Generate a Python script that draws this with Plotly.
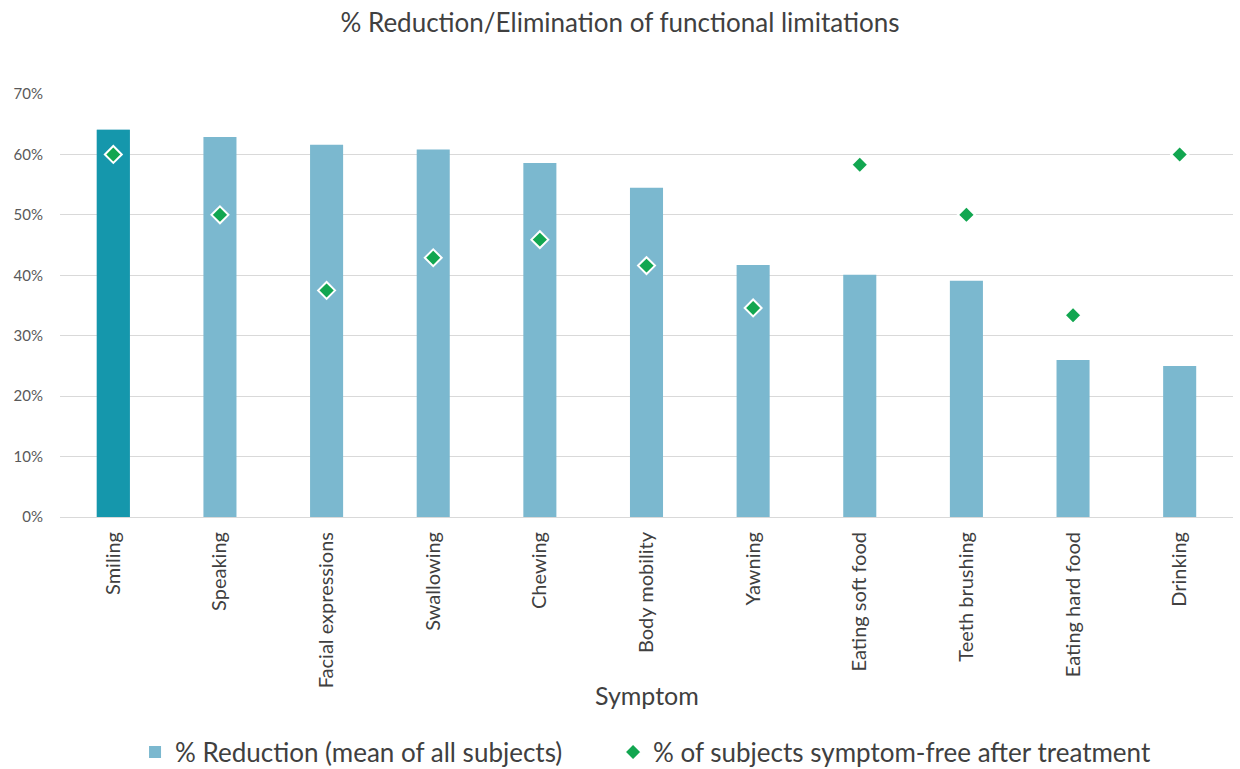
import plotly.graph_objects as go

categories = ["Smiling", "Speaking", "Facial expressions", "Swallowing", "Chewing",
              "Body mobility", "Yawning", "Eating soft food", "Teeth brushing",
              "Eating hard food", "Drinking"]
reduction = [64.1, 62.9, 61.6, 60.8, 58.6, 54.5, 41.7, 40.1, 39.1, 26.0, 25.0]
symptom_free = [60.0, 50.0, 37.5, 42.9, 45.9, 41.6, 34.6, 58.3, 50.0, 33.4, 60.0]
y_ticks = [0, 10, 20, 30, 40, 50, 60, 70]
y_tick_labels = [f"{v}%" for v in y_ticks]

FONT = "Lato"
GRAY = "#595959"
DARK = "#404040"

fig = go.Figure()
fig.add_trace(go.Bar(
    x=categories, y=reduction, name="% Reduction (mean of all subjects)",
    marker=dict(color="#7BB8CF", line=dict(width=0)), width=0.31,
    legend="legend",
))
fig.add_trace(go.Bar(
    x=categories[:1], y=reduction[:1], showlegend=False,
    marker=dict(color="#1597AC", line=dict(width=0)), width=0.31,
))
fig.add_trace(go.Scatter(
    x=categories, y=symptom_free, mode="markers",
    name="% of subjects symptom-free after treatment",
    marker=dict(symbol="diamond", size=13, color="#12A650",
                line=dict(color="white", width=2)),
    legend="legend2",
))

legend_common = dict(orientation="h", xanchor="left", xref="container", yref="container",
                     y=0.022, yanchor="middle",
                     font=dict(size=26, color=DARK), bgcolor="rgba(0,0,0,0)")

fig.update_layout(
    width=1240, height=769,
    barmode="overlay",
    paper_bgcolor="white", plot_bgcolor="white",
    margin=dict(l=60, r=7, t=94, b=252),
    font=dict(family=FONT, color=GRAY),
    title=dict(text="% Reduction/Elimination of functional limitations",
               x=0.5, xanchor="center", y=0.970, yanchor="middle",
               font=dict(size=26, color=DARK, family=FONT)),
    xaxis=dict(tickangle=-90, tickfont=dict(size=20, color=DARK),
               range=[-0.5, len(categories) - 0.5],
               showgrid=False, showline=True, linecolor="#D9D9D9", linewidth=1,
               ticks="", automargin=False, ticklabelstandoff=6),
    yaxis=dict(range=[0, 70], tickvals=y_ticks, ticktext=y_tick_labels,
               tickfont=dict(size=15, color=GRAY), showgrid=True,
               gridcolor="#D9D9D9", gridwidth=1, zeroline=False,
               ticks="", automargin=False, ticklabelstandoff=16),
    legend=dict(x=0.1089, **legend_common),
    legend2=dict(x=0.4944, **legend_common),
    annotations=[dict(text="Symptom", x=0.5, xref="paper", y=-0.421, yref="paper",
                      showarrow=False, xanchor="center", yanchor="middle",
                      font=dict(size=25, color=DARK))],
)

fig.write_html("out.html",
               config={"displayModeBar": False},
               post_script="document.body.style.margin='0';document.body.style.padding='0';document.body.style.overflow='hidden';")
